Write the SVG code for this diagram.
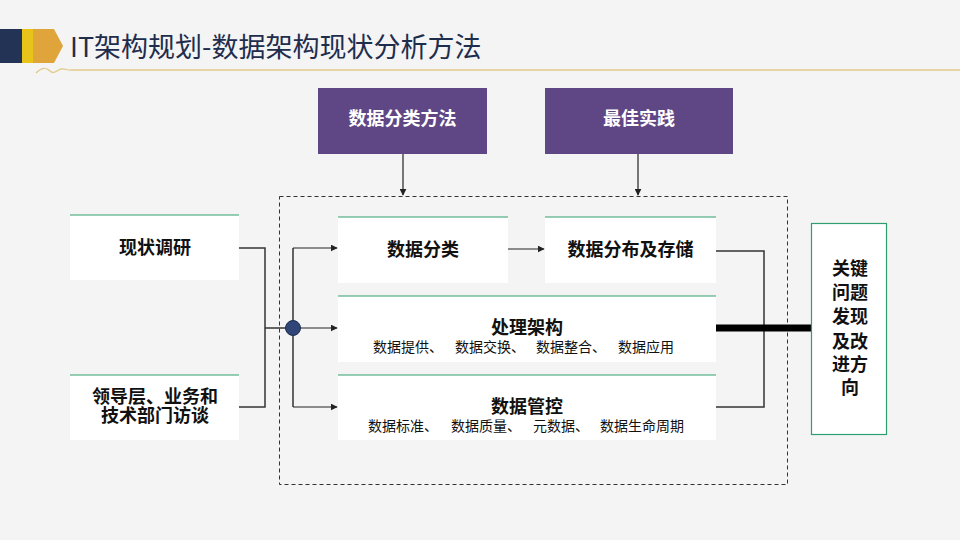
<svg xmlns="http://www.w3.org/2000/svg" width="960" height="540" viewBox="0 0 960 540">
<defs>
<marker id="arr" viewBox="0 0 10 10" refX="9" refY="5" markerWidth="7" markerHeight="7" orient="auto" markerUnits="userSpaceOnUse">
<path d="M0,0 L10,5 L0,10 z" fill="#222"/>
</marker>
<style>
.box{fill:#ffffff}
.top{stroke:#2e9e6e;stroke-width:1.2}
.t{font-family:"Noto Sans CJK SC","Microsoft YaHei",sans-serif;font-weight:bold;font-size:18px;fill:#111;text-anchor:middle}
.s{font-family:"Noto Sans CJK SC","Microsoft YaHei",sans-serif;font-size:14px;fill:#111}
.w{font-family:"Noto Sans CJK SC","Microsoft YaHei",sans-serif;font-weight:bold;font-size:18px;fill:#ffffff;text-anchor:middle}
.c{fill:none;stroke:#333;stroke-width:1.5}
.ca{fill:none;stroke:#222;stroke-width:1.2;marker-end:url(#arr)}
.purple{fill:#5f4785}
</style>
</defs>
<rect width="960" height="540" fill="#f4f4f4"/>
<g id="title">
<rect x="0" y="29" width="22" height="34" fill="#223356"/>
<rect x="22" y="29" width="11" height="34" fill="#e8c319"/>
<path d="M33,29 L54,29 L63,46 L54,63 L33,63 z" fill="#dfa43a"/>
<text x="70" y="57" font-family="Noto Sans CJK SC, Microsoft YaHei, sans-serif" font-size="27" fill="#1f2d4d">IT架构规划-数据架构现状分析方法</text>
<path d="M36,73 C42,67 46,67 50,71 C54,75 57,70 61,69 C65,68 68,71 72,70 L960,70" fill="none" stroke="#e2c98a" stroke-width="1.3"/>
</g>
<g id="frame">
<rect x="279.5" y="196.5" width="508" height="288" fill="none" stroke="#333" stroke-width="1" stroke-dasharray="4,3"/>
</g>
<g id="connectors">
<line x1="403" y1="154" x2="403" y2="195" class="ca"/>
<line x1="638" y1="154" x2="638" y2="195" class="ca"/>
<polyline points="239,248 265,248 265,407 239,407" class="c"/>
<line x1="265" y1="328" x2="293" y2="328" class="c"/>
<line x1="293" y1="248" x2="293" y2="407" class="c"/>
<line x1="293" y1="248" x2="337" y2="248" class="ca"/>
<line x1="293" y1="328" x2="337" y2="328" class="ca"/>
<line x1="293" y1="407" x2="337" y2="407" class="ca"/>
<line x1="508" y1="249" x2="544" y2="249" class="ca"/>
<polyline points="716,251 764,251 764,407 716,407" class="c"/>
<line x1="716" y1="328" x2="811" y2="328" stroke="#000" stroke-width="7"/>
<circle cx="293" cy="328" r="7.5" fill="#2f4577" stroke="#1f2d4d" stroke-width="1"/>
</g>
<g id="n-method">
<rect x="318" y="88" width="169" height="66" class="purple"/>
<text x="402.5" y="125" class="w">数据分类方法</text>
</g>
<g id="n-best">
<rect x="545" y="88" width="188" height="66" class="purple"/>
<text x="639" y="125" class="w">最佳实践</text>
</g>
<g id="n-survey">
<rect x="70" y="215" width="169" height="65" class="box"/>
<line x1="70" y1="215" x2="239" y2="215" class="top"/>
<text x="155" y="254" class="t">现状调研</text>
</g>
<g id="n-interview">
<rect x="70" y="375" width="169" height="65" class="box"/>
<line x1="70" y1="375" x2="239" y2="375" class="top"/>
<text x="155" y="403" class="t">领导层、业务和</text>
<text x="155" y="422" class="t">技术部门访谈</text>
</g>
<g id="n-classify">
<rect x="338" y="217" width="170" height="66" class="box"/>
<line x1="338" y1="217" x2="508" y2="217" class="top"/>
<text x="423" y="256" class="t">数据分类</text>
</g>
<g id="n-storage">
<rect x="545" y="217" width="171" height="66" class="box"/>
<line x1="545" y1="217" x2="716" y2="217" class="top"/>
<text x="630.5" y="256" class="t">数据分布及存储</text>
</g>
<g id="n-process">
<rect x="338" y="296" width="378" height="66" class="box"/>
<line x1="338" y1="296" x2="716" y2="296" class="top"/>
<text x="527" y="334" class="t">处理架构</text>
<text y="352" class="s"><tspan x="373">数据提供、</tspan><tspan x="455">数据交换、</tspan><tspan x="536">数据整合、</tspan><tspan x="618">数据应用</tspan></text>
</g>
<g id="n-govern">
<rect x="338" y="375" width="378" height="65" class="box"/>
<line x1="338" y1="375" x2="716" y2="375" class="top"/>
<text x="527" y="413" class="t">数据管控</text>
<text y="431" class="s"><tspan x="368">数据标准、</tspan><tspan x="451">数据质量、</tspan><tspan x="533">元数据、</tspan><tspan x="600">数据生命周期</tspan></text>
</g>
<g id="n-key">
<rect x="811.5" y="223.5" width="75" height="211" fill="#fff" stroke="#2e9e6e" stroke-width="1.2"/>
<text x="850" y="275" class="t">关键</text>
<text x="850" y="299" class="t">问题</text>
<text x="850" y="323" class="t">发现</text>
<text x="850" y="348" class="t">及改</text>
<text x="850" y="371" class="t">进方</text>
<text x="850" y="394" class="t">向</text>
</g>
</svg>
